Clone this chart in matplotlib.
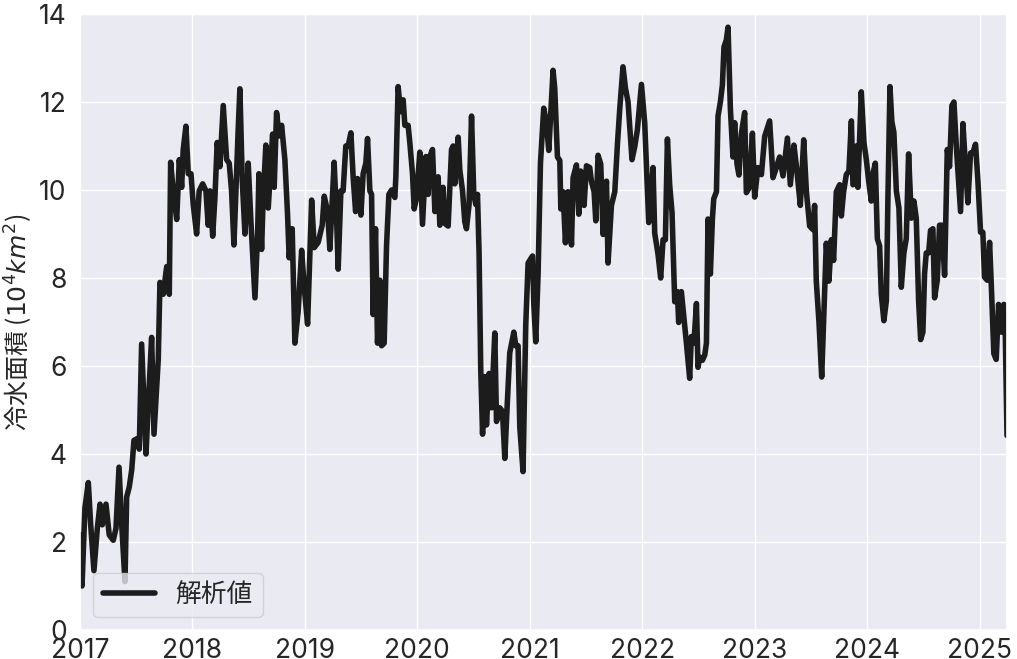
import matplotlib
matplotlib.use("Agg")
import matplotlib.pyplot as plt
import matplotlib.dates as mdates
import seaborn as sns
import numpy as np
import pandas as pd

# time position in years since 2017-01-01
years = [
    0.000, 0.018, 0.044, 0.074, 0.095, 0.124, 0.154, 0.178, 0.198, 0.231,
    0.260, 0.296, 0.320, 0.347, 0.371, 0.400, 0.415, 0.438, 0.460, 0.480,
    0.509, 0.527, 0.548, 0.587, 0.607, 0.637, 0.658, 0.696, 0.711, 0.740,
    0.771, 0.794, 0.806, 0.829, 0.860, 0.883, 0.904, 0.918, 0.942, 0.963,
    0.987, 1.007, 1.037, 1.060, 1.091, 1.120, 1.140, 1.156, 1.180, 1.200,
    1.220, 1.244, 1.274, 1.304, 1.327, 1.348, 1.369,
    1.407, 1.422, 1.443, 1.467, 1.496, 1.520, 1.556, 1.580, 1.591, 1.615,
    1.629, 1.653, 1.674, 1.698, 1.713, 1.727, 1.748, 1.772, 1.793, 1.822,
    1.846, 1.860, 1.887, 1.911, 1.940, 1.971, 1.994, 2.024, 2.060, 2.083,
    2.118, 2.154, 2.172, 2.202, 2.222, 2.260, 2.282, 2.296, 2.320, 2.340,
    2.364, 2.385, 2.409, 2.429, 2.451, 2.468, 2.498, 2.518, 2.542, 2.557,
    2.578, 2.593, 2.607, 2.628, 2.646, 2.667, 2.682, 2.705, 2.726, 2.747,
    2.771, 2.800, 2.809, 2.829, 2.851, 2.874, 2.889, 2.918, 2.933, 2.957,
    2.972, 2.993, 3.022, 3.046, 3.076, 3.096, 3.111, 3.135, 3.156, 3.185,
    3.200, 3.229, 3.244, 3.274, 3.304, 3.318, 3.333, 3.363, 3.378, 3.402,
    3.422, 3.437, 3.460, 3.482, 3.502, 3.520, 3.535, 3.549, 3.564, 3.580,
    3.600, 3.615, 3.638, 3.660, 3.689, 3.704, 3.733, 3.757, 3.778, 3.798,
    3.822, 3.858, 3.876, 3.896, 3.911, 3.940, 3.964, 3.985, 4.024, 4.036,
    4.053, 4.074, 4.095, 4.124,
    4.148, 4.169, 4.184, 4.207, 4.222, 4.246, 4.267, 4.276, 4.296, 4.317,
    4.340, 4.371, 4.385, 4.415, 4.436, 4.453, 4.483, 4.504, 4.533, 4.548,
    4.572, 4.587, 4.607, 4.631, 4.652, 4.682, 4.696, 4.726, 4.756, 4.780,
    4.800, 4.829, 4.851, 4.874, 4.909, 4.933, 4.957, 4.993, 5.022, 5.037,
    5.058, 5.076, 5.096, 5.111, 5.140, 5.164, 5.185, 5.206, 5.224, 5.244,
    5.265, 5.289, 5.313, 5.324, 5.348, 5.372, 5.393, 5.422, 5.437, 5.460,
    5.482, 5.496,
    5.511, 5.535, 5.556, 5.571, 5.585, 5.606, 5.624, 5.636, 5.660, 5.674,
    5.695, 5.713, 5.727, 5.748, 5.763, 5.784, 5.807, 5.822, 5.843, 5.860,
    5.882, 5.911, 5.926, 5.949, 5.980, 6.000, 6.029, 6.060, 6.089, 6.133,
    6.163, 6.193, 6.222, 6.252, 6.291, 6.317, 6.349, 6.376, 6.406, 6.436,
    6.460, 6.489, 6.518, 6.533, 6.548, 6.572, 6.596, 6.613, 6.637, 6.660,
    6.682, 6.702, 6.726, 6.756, 6.771, 6.791, 6.815, 6.838, 6.860, 6.874,
    6.889, 6.904, 6.918, 6.948, 6.972, 6.993, 7.013, 7.037, 7.052, 7.073,
    7.091, 7.111, 7.126, 7.149, 7.171, 7.185, 7.203, 7.220, 7.238, 7.260,
    7.283, 7.304, 7.327, 7.348, 7.369, 7.393, 7.416, 7.437, 7.458, 7.476,
    7.496, 7.511, 7.526, 7.547, 7.564, 7.585, 7.600, 7.624, 7.644, 7.665,
    7.689, 7.713, 7.733, 7.754, 7.772, 7.793, 7.813, 7.831, 7.852, 7.873,
    7.896, 7.920, 7.940, 7.964, 7.985, 8.009, 8.029, 8.044, 8.068, 8.089,
    8.104, 8.127, 8.148, 8.169, 8.193, 8.216, 8.228, 8.244,
]

# cold water area (10^4 km^2)
area = [
    2.16, 1.00, 2.78, 3.35, 2.39, 1.35, 2.31, 2.86, 2.39, 2.86,
    2.16, 2.04, 2.31, 3.70, 2.39, 1.10, 3.02, 3.25, 3.64, 4.31,
    4.35, 4.11, 6.50, 4.00, 5.13, 6.65, 4.45, 6.15, 7.90, 7.63,
    8.26, 7.63, 10.63, 9.98, 9.33, 10.69, 10.06, 10.92, 11.45, 10.37,
    10.37, 9.67, 9.00, 9.98, 10.14, 9.98, 9.20, 9.98, 8.95, 9.83,
    11.08, 10.53, 11.92, 10.69, 10.61, 9.98, 8.75,
    11.39, 12.30, 10.22, 9.00, 10.61, 9.28, 7.55, 9.04, 10.37, 8.65,
    9.83, 11.02, 9.59, 10.61, 11.27, 10.06, 11.76, 11.23, 11.47, 10.69,
    9.43, 8.46, 9.12, 6.52, 7.24, 8.63, 7.79, 6.95, 9.77, 8.69,
    8.81, 9.20, 9.86, 9.51, 8.65, 10.63, 9.36, 8.20, 9.98, 9.98,
    11.00, 11.00, 11.30, 10.30, 9.51, 10.26, 9.43, 10.37, 10.61, 11.17,
    9.98, 9.90, 7.17, 9.12, 6.52, 7.95, 6.46, 6.52, 8.73, 9.90,
    10.00, 9.83, 10.30, 12.35, 11.78, 12.05, 11.47, 11.47, 11.08, 10.37,
    9.57, 9.83, 10.86, 9.22, 10.76, 9.90, 10.76, 10.92, 9.51, 10.30,
    9.20, 10.06, 9.24, 9.18, 10.92, 11.00, 10.14, 11.20, 10.45, 9.98,
    9.28, 9.12, 9.67, 11.68, 9.90, 9.67, 9.90, 8.57, 5.91, 4.45,
    5.76, 4.66, 5.83, 5.05, 6.75, 4.74, 5.05, 4.97, 3.90, 5.05,
    6.30, 6.77, 6.46, 6.46, 4.62, 3.60, 6.93, 8.34, 8.50, 7.40,
    6.55, 8.10, 10.61, 11.86,
    11.53, 10.90, 11.61, 12.72, 12.31, 10.75, 10.67, 9.57, 9.96, 8.80,
    9.96, 8.75, 10.28, 10.57, 9.45, 10.43, 9.65, 10.55, 10.51, 10.20,
    9.96, 9.30, 10.79, 10.59, 8.99, 10.20, 8.34, 9.65, 9.96, 11.06,
    11.84, 12.80, 12.31, 12.00, 10.69, 10.98, 11.37, 12.40, 11.53, 10.59,
    9.26, 9.80, 10.51, 9.02, 8.55, 8.00, 8.87, 8.87, 11.16, 10.12,
    9.49, 7.46, 7.69, 6.99, 7.69, 7.07, 6.52, 5.72, 6.67, 6.52,
    7.42, 5.97,
    6.20, 6.13, 6.25, 6.52, 9.34, 8.09, 9.34, 9.80, 9.96, 11.68,
    12.00, 12.39, 13.25, 13.41, 13.70, 11.84, 10.75, 11.53, 10.59, 10.34,
    11.29, 11.76, 9.94, 10.04, 11.29, 9.84, 10.51, 10.35, 11.22, 11.57,
    10.28, 10.51, 10.75, 10.32, 11.18, 10.12, 11.02, 10.43, 9.65, 11.14,
    9.96, 9.18, 9.10, 9.65, 7.93, 6.99, 5.75, 6.99, 8.79, 7.93,
    8.87, 8.40, 9.96, 10.12, 9.41, 9.96, 10.35, 10.43, 11.57, 10.12,
    10.14, 11.00, 10.06, 12.23, 11.08, 10.69, 10.22, 9.75, 10.37, 10.61,
    8.89, 8.73, 7.63, 7.03, 7.48, 9.83, 12.35, 11.55, 11.31, 9.98,
    9.59, 7.79, 8.57, 8.89, 10.82, 9.36, 9.75, 9.36, 7.48, 6.60,
    6.77, 8.10, 8.57, 8.57, 9.08, 9.12, 7.55, 7.95, 9.20, 9.20,
    8.06, 10.92, 10.53, 11.92, 12.00, 11.00, 10.22, 9.51, 11.51, 10.61,
    9.71, 10.84, 10.84, 11.04, 10.22, 9.04, 9.04, 8.02, 7.95, 8.81,
    7.87, 6.28, 6.15, 7.40, 6.77, 7.40, 6.85, 4.42,
]

start = pd.Timestamp("2017-01-01")
dates = start + pd.to_timedelta(np.array(years) * 365.25, unit="D")

sns.set_theme(style="darkgrid")
plt.rcParams['font.family'] = ['Inter', 'Noto Sans CJK JP', 'DejaVu Sans']

fig, ax = plt.subplots(figsize=(10.17, 6.59), dpi=100)
fig.subplots_adjust(left=80 / 1017, right=1007 / 1017, top=1 - 14 / 659, bottom=1 - 630 / 659)

ax.plot(dates, area, color='#1c1c1c', linewidth=4, label='解析値')

ax.set_xlim(dates[0], dates[-1])
ax.set_ylim(0, 14)
ax.set_yticks(np.arange(0, 15, 2))
ax.xaxis.set_major_locator(mdates.YearLocator())
ax.xaxis.set_major_formatter(mdates.DateFormatter('%Y'))
ax.tick_params(labelsize=19)
ax.tick_params(axis='x', pad=0)

# mathtext does not fall back through a family list, so name the CJK font here
ax.set_ylabel('冷水面積 ($10^4km^2$)', fontsize=18, labelpad=3,
              family='Noto Sans CJK JP')
ax.legend(loc='lower left', fontsize=18.5)

fig.savefig('out.png', dpi=100)
